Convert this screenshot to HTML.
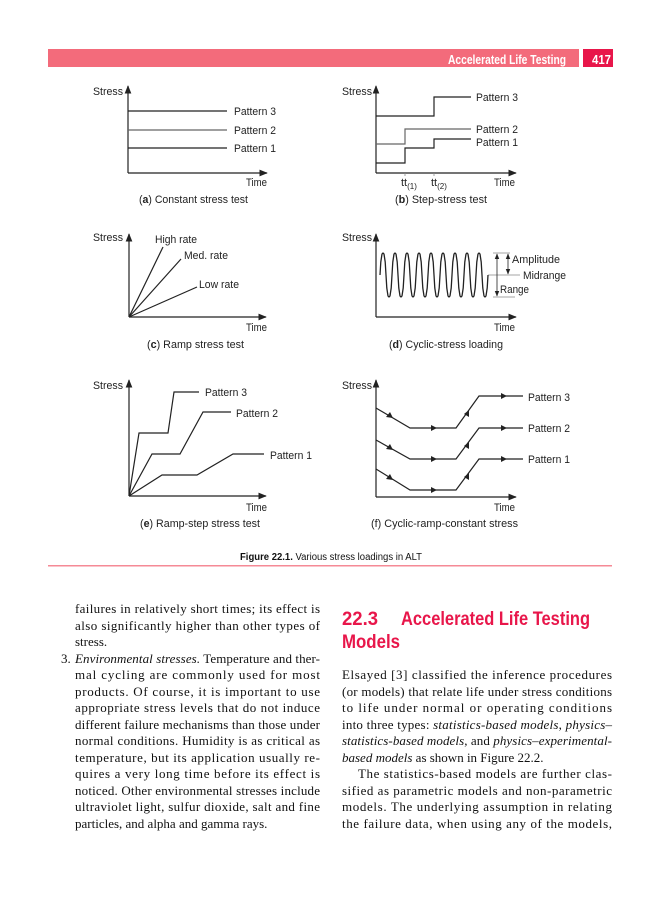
<!DOCTYPE html>
<html><head><meta charset="utf-8"><style>
html,body{margin:0;padding:0;background:#fff;}
svg{display:block;}
.s{font-family:"Liberation Sans",sans-serif;font-size:11px;fill:#222;}
.b{font-family:"Liberation Serif",serif;font-size:13px;fill:#111;}
.i{font-style:italic;}
</style></head><body>
<svg width="662" height="900" viewBox="0 0 662 900" xmlns="http://www.w3.org/2000/svg">
<defs>
<marker id="ah" viewBox="0 0 10 10" refX="9" refY="5" markerWidth="7" markerHeight="7" orient="auto"><path d="M0,1 L10,5 L0,9 z" fill="#222"/></marker>
</defs>
<rect x="48" y="49" width="531" height="18" fill="#f36b7b"/>
<rect x="583" y="49" width="30" height="18" fill="#e8164a"/>
<text x="566" y="64" text-anchor="end" font-family="Liberation Sans,sans-serif" font-weight="bold" font-size="13" fill="#fff" textLength="118" lengthAdjust="spacingAndGlyphs">Accelerated Life Testing</text>
<text x="592" y="64" font-family="Liberation Sans,sans-serif" font-weight="bold" font-size="13" fill="#fff" textLength="19" lengthAdjust="spacingAndGlyphs">417</text>

<g stroke="#222" stroke-width="1.2" fill="none">
<line x1="128" y1="173" x2="128" y2="86" marker-end="url(#ah)"/>
<line x1="128" y1="173" x2="267" y2="173" marker-end="url(#ah)"/>
<line x1="128" y1="111" x2="227" y2="111"/>
<line x1="128" y1="130" x2="227" y2="130" stroke="#666"/>
<line x1="128" y1="148" x2="227" y2="148"/>
<line x1="376" y1="173" x2="376" y2="86" marker-end="url(#ah)"/>
<line x1="376" y1="173" x2="516" y2="173" marker-end="url(#ah)"/>
<polyline points="376,116 434,116 434,97 471,97"/>
<polyline points="376,144 405,144 405,129 471,129" stroke="#666"/>
<polyline points="376,163 405,163 405,148 434,148 434,139 471,139"/>
<line x1="405" y1="173" x2="405" y2="176" stroke="#888" stroke-width="0.8"/>
<line x1="434" y1="173" x2="434" y2="176" stroke="#888" stroke-width="0.8"/>
<line x1="129" y1="317" x2="129" y2="234" marker-end="url(#ah)"/>
<line x1="129" y1="317" x2="266" y2="317" marker-end="url(#ah)"/>
<line x1="129" y1="317" x2="163" y2="247"/>
<line x1="129" y1="317" x2="181" y2="259"/>
<line x1="129" y1="317" x2="197" y2="287"/>
<line x1="376" y1="317" x2="376" y2="234" marker-end="url(#ah)"/>
<line x1="376" y1="317" x2="516" y2="317" marker-end="url(#ah)"/>
<line x1="488" y1="275" x2="520" y2="275" stroke="#888" stroke-width="0.8"/>
<line x1="493" y1="253" x2="510" y2="253" stroke="#888" stroke-width="0.8"/>
<line x1="493" y1="297" x2="515" y2="297" stroke="#888" stroke-width="0.8"/>
<line x1="497" y1="275" x2="497" y2="254" stroke-width="0.8" marker-end="url(#ah)"/>
<line x1="497" y1="275" x2="497" y2="296" stroke-width="0.8" marker-end="url(#ah)"/>
<line x1="508" y1="264" x2="508" y2="254" stroke-width="0.8" marker-end="url(#ah)"/>
<line x1="508" y1="264" x2="508" y2="274" stroke-width="0.8" marker-end="url(#ah)"/>
<line x1="129" y1="496" x2="129" y2="380" marker-end="url(#ah)"/>
<line x1="129" y1="496" x2="266" y2="496" marker-end="url(#ah)"/>
<polyline points="129,496 139,433 168,433 174,392 199,392"/>
<polyline points="129,496 152,454 180,454 203,412 231,412"/>
<polyline points="129,496 162,475 197,475 233,454 264,454"/>
<line x1="376" y1="497" x2="376" y2="380" marker-end="url(#ah)"/>
<line x1="376" y1="497" x2="516" y2="497" marker-end="url(#ah)"/>
<polyline points="376,408 410,428 456,428 479,396 523,396"/>
<polyline points="376,440 410,459 456,459 479,428 523,428"/>
<polyline points="376,469 410,490 456,490 479,459 523,459"/>
</g>
<g fill="none" stroke="#222" stroke-width="1.3">
<path d="M380,275 L380.8,262 L382,254 L383,253 L384,254 L385.2,262 L386,275 L386.8,288 L388,296 L389,297 L390,296 L391.2,288 L392,275 L392.8,262 L394,254 L395,253 L396,254 L397.2,262 L398,275 L398.8,288 L400,296 L401,297 L402,296 L403.2,288 L404,275 L404.8,262 L406,254 L407,253 L408,254 L409.2,262 L410,275 L410.8,288 L412,296 L413,297 L414,296 L415.2,288 L416,275 L416.8,262 L418,254 L419,253 L420,254 L421.2,262 L422,275 L422.8,288 L424,296 L425,297 L426,296 L427.2,288 L428,275 L428.8,262 L430,254 L431,253 L432,254 L433.2,262 L434,275 L434.8,288 L436,296 L437,297 L438,296 L439.2,288 L440,275 L440.8,262 L442,254 L443,253 L444,254 L445.2,262 L446,275 L446.8,288 L448,296 L449,297 L450,296 L451.2,288 L452,275 L452.8,262 L454,254 L455,253 L456,254 L457.2,262 L458,275 L458.8,288 L460,296 L461,297 L462,296 L463.2,288 L464,275 L464.8,262 L466,254 L467,253 L468,254 L469.2,262 L470,275 L470.8,288 L472,296 L473,297 L474,296 L475.2,288 L476,275 L476.8,262 L478,254 L479,253 L480,254 L481.2,262 L482,275 L482.8,288 L484,296 L485,297 L486,296 L487.2,288 L488,275"/>
</g>
<g fill="#222">
<path d="M393,418 l-7,-1 l4,-5 z"/>
<path d="M393,450 l-7,-1 l4,-5 z"/>
<path d="M393,480 l-7,-1 l4,-5 z"/>
<path d="M437,428 l-6,-3 l0,6 z"/><path d="M437,459 l-6,-3 l0,6 z"/><path d="M437,490 l-6,-3 l0,6 z"/>
<path d="M507,396 l-6,-3 l0,6 z"/><path d="M507,428 l-6,-3 l0,6 z"/><path d="M507,459 l-6,-3 l0,6 z"/>
<path d="M469,410 l0,7 l-5,-3 z"/><path d="M469,442 l0,7 l-5,-3 z"/><path d="M469,473 l0,7 l-5,-3 z"/>
</g>

<g class="s">
<text x="93" y="95" textLength="30" lengthAdjust="spacingAndGlyphs">Stress</text>
<text x="234" y="115" textLength="42" lengthAdjust="spacingAndGlyphs">Pattern 3</text>
<text x="234" y="134" textLength="42" lengthAdjust="spacingAndGlyphs">Pattern 2</text>
<text x="234" y="152" textLength="42" lengthAdjust="spacingAndGlyphs">Pattern 1</text>
<text x="246" y="186" textLength="21" lengthAdjust="spacingAndGlyphs">Time</text>
<text x="139" y="203" textLength="109" lengthAdjust="spacingAndGlyphs">(<tspan font-weight="bold">a</tspan>) Constant stress test</text>
<text x="342" y="95" textLength="30" lengthAdjust="spacingAndGlyphs">Stress</text>
<text x="476" y="101" textLength="42" lengthAdjust="spacingAndGlyphs">Pattern 3</text>
<text x="476" y="133" textLength="42" lengthAdjust="spacingAndGlyphs">Pattern 2</text>
<text x="476" y="146" textLength="42" lengthAdjust="spacingAndGlyphs">Pattern 1</text>
<text x="494" y="186" textLength="21" lengthAdjust="spacingAndGlyphs">Time</text>
<text x="401" y="186">tt<tspan font-size="8" dy="3">(1)</tspan></text>
<text x="431" y="186">tt<tspan font-size="8" dy="3">(2)</tspan></text>
<text x="395" y="203" textLength="92" lengthAdjust="spacingAndGlyphs">(<tspan font-weight="bold">b</tspan>) Step-stress test</text>
<text x="93" y="241" textLength="30" lengthAdjust="spacingAndGlyphs">Stress</text>
<text x="155" y="243" textLength="42" lengthAdjust="spacingAndGlyphs">High rate</text>
<text x="184" y="259" textLength="44" lengthAdjust="spacingAndGlyphs">Med. rate</text>
<text x="199" y="288" textLength="40" lengthAdjust="spacingAndGlyphs">Low rate</text>
<text x="246" y="331" textLength="21" lengthAdjust="spacingAndGlyphs">Time</text>
<text x="147" y="348" textLength="97" lengthAdjust="spacingAndGlyphs">(<tspan font-weight="bold">c</tspan>) Ramp stress test</text>
<text x="342" y="241" textLength="30" lengthAdjust="spacingAndGlyphs">Stress</text>
<text x="512" y="263" textLength="48" lengthAdjust="spacingAndGlyphs">Amplitude</text>
<text x="523" y="279" textLength="43" lengthAdjust="spacingAndGlyphs">Midrange</text>
<text x="500" y="293" textLength="29" lengthAdjust="spacingAndGlyphs">Range</text>
<text x="494" y="331" textLength="21" lengthAdjust="spacingAndGlyphs">Time</text>
<text x="389" y="348" textLength="114" lengthAdjust="spacingAndGlyphs">(<tspan font-weight="bold">d</tspan>) Cyclic-stress loading</text>
<text x="93" y="389" textLength="30" lengthAdjust="spacingAndGlyphs">Stress</text>
<text x="205" y="396" textLength="42" lengthAdjust="spacingAndGlyphs">Pattern 3</text>
<text x="236" y="417" textLength="42" lengthAdjust="spacingAndGlyphs">Pattern 2</text>
<text x="270" y="459" textLength="42" lengthAdjust="spacingAndGlyphs">Pattern 1</text>
<text x="246" y="511" textLength="21" lengthAdjust="spacingAndGlyphs">Time</text>
<text x="140" y="527" textLength="120" lengthAdjust="spacingAndGlyphs">(<tspan font-weight="bold">e</tspan>) Ramp-step stress test</text>
<text x="342" y="389" textLength="30" lengthAdjust="spacingAndGlyphs">Stress</text>
<text x="528" y="401" textLength="42" lengthAdjust="spacingAndGlyphs">Pattern 3</text>
<text x="528" y="432" textLength="42" lengthAdjust="spacingAndGlyphs">Pattern 2</text>
<text x="528" y="463" textLength="42" lengthAdjust="spacingAndGlyphs">Pattern 1</text>
<text x="494" y="511" textLength="21" lengthAdjust="spacingAndGlyphs">Time</text>
<text x="371" y="527" textLength="147" lengthAdjust="spacingAndGlyphs">(f) Cyclic-ramp-constant stress</text>
</g>
<text x="240" y="560" font-family="Liberation Sans,sans-serif" font-size="10" fill="#111" textLength="182" lengthAdjust="spacingAndGlyphs"><tspan font-weight="bold">Figure 22.1.</tspan>  Various stress loadings in ALT</text>
<rect x="48" y="565" width="564" height="1.5" fill="#f58a96"/>

<g class="b">
<text x="75" y="613" textLength="245" lengthAdjust="spacing">failures in relatively short times; its effect is</text>
<text x="75" y="630" textLength="245" lengthAdjust="spacing">also significantly higher than other types of</text>
<text x="75" y="646">stress.</text>
<text x="61" y="663">3.</text>
<text x="75" y="663" textLength="245" lengthAdjust="spacing"><tspan class="i">Environmental stresses.</tspan> Temperature and ther-</text>
<text x="75" y="679" textLength="245" lengthAdjust="spacing">mal cycling are commonly used for most</text>
<text x="75" y="696" textLength="245" lengthAdjust="spacing">products. Of course, it is important to use</text>
<text x="75" y="712" textLength="245" lengthAdjust="spacing">appropriate stress levels that do not induce</text>
<text x="75" y="729" textLength="245" lengthAdjust="spacing">different failure mechanisms than those under</text>
<text x="75" y="745" textLength="245" lengthAdjust="spacing">normal conditions. Humidity is as critical as</text>
<text x="75" y="762" textLength="245" lengthAdjust="spacing">temperature, but its application usually re-</text>
<text x="75" y="778" textLength="245" lengthAdjust="spacing">quires a very long time before its effect is</text>
<text x="75" y="795" textLength="245" lengthAdjust="spacing">noticed. Other environmental stresses include</text>
<text x="75" y="811" textLength="245" lengthAdjust="spacing">ultraviolet light, sulfur dioxide, salt and fine</text>
<text x="75" y="828">particles, and alpha and gamma rays.</text>
</g>
<g font-family="Liberation Sans,sans-serif" font-weight="bold" font-size="19" fill="#e8164a">
<text x="342" y="625" textLength="36" lengthAdjust="spacingAndGlyphs">22.3</text>
<text x="401" y="625" textLength="189" lengthAdjust="spacingAndGlyphs">Accelerated Life Testing</text>
<text x="342" y="648" textLength="58" lengthAdjust="spacingAndGlyphs">Models</text>
</g>
<g class="b">
<text x="342" y="679" textLength="270" lengthAdjust="spacing">Elsayed [3] classified the inference procedures</text>
<text x="342" y="696" textLength="270" lengthAdjust="spacing">(or models) that relate life under stress conditions</text>
<text x="342" y="712" textLength="270" lengthAdjust="spacing">to life under normal or operating conditions</text>
<text x="342" y="729" textLength="270" lengthAdjust="spacing">into three types: <tspan class="i">statistics-based models</tspan>, <tspan class="i">physics–</tspan></text>
<text x="342" y="745" textLength="270" lengthAdjust="spacing"><tspan class="i">statistics-based models</tspan>, and <tspan class="i">physics–experimental-</tspan></text>
<text x="342" y="762"><tspan class="i">based models</tspan> as shown in Figure 22.2.</text>
<text x="358" y="778" textLength="254" lengthAdjust="spacing">The statistics-based models are further clas-</text>
<text x="342" y="795" textLength="270" lengthAdjust="spacing">sified as parametric models and non-parametric</text>
<text x="342" y="811" textLength="270" lengthAdjust="spacing">models. The underlying assumption in relating</text>
<text x="342" y="828" textLength="270" lengthAdjust="spacing">the failure data, when using any of the models,</text>
</g>
</svg>
</body></html>
